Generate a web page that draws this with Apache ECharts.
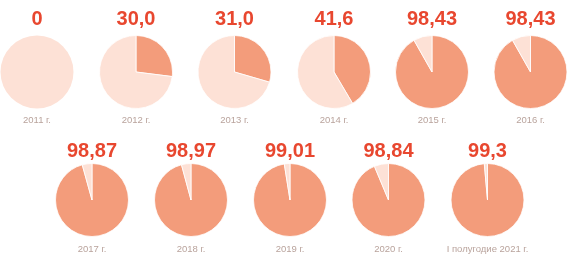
<!DOCTYPE html>
<html><head><meta charset="utf-8">
<script src="https://cdn.jsdelivr.net/npm/echarts@6/dist/echarts.min.js"></script>
<style>html,body{margin:0;padding:0;background:#fff}#c{width:579px;height:260px}</style>
</head><body><div id="c"></div>
<script>
// Period labels
const periods = ['2011 г.','2012 г.','2013 г.','2014 г.','2015 г.','2016 г.','2017 г.','2018 г.','2019 г.','2020 г.','I полугодие 2021 г.'];
// Printed values (as shown above each pie)
const valueLabels = ['0','30,0','31,0','41,6','98,43','98,43','98,87','98,97','99,01','98,84','99,3'];
// Dark slice share as drawn in the picture (%)
const drawnShares = [0, 27, 29.5, 41.5, 91.8, 91.8, 95.7, 95.8, 97.5, 93.7, 98.6];

const centersX = [37,136,234.5,334,432,530.5, 92,191,290,388.5,487.5];
const rowY = [72,200];
const valueY = [19,151];
const yearY = [120.5,249.5];
const R = 36.5;

const DARK = '#f39c7b', LIGHT = '#fde1d6';
const series = [], graphics = [];
periods.forEach((p,i)=>{
  const row = i<6?0:1;
  const d = drawnShares[i];
  series.push({
    type:'pie', radius:[0,R], center:[centersX[i], rowY[row]],
    startAngle:90, clockwise:true, silent:true, animation:false,
    label:{show:false}, labelLine:{show:false},
    itemStyle:{borderColor:'#fff', borderWidth:d>0?0.8:0},
    data: d>0 ? [{value:d,itemStyle:{color:DARK}},{value:100-d,itemStyle:{color:LIGHT}}]
              : [{value:100,itemStyle:{color:LIGHT}}]
  });
  graphics.push({type:'text', x:centersX[i], y:valueY[row], style:{text:valueLabels[i], fill:'#e8472f',
    font:'bold 20px "Liberation Sans", Arial, sans-serif', textAlign:'center', textVerticalAlign:'middle'}});
  graphics.push({type:'text', x:centersX[i], y:yearY[row], style:{text:p, fill:'#b9a39c',
    font:'9.5px "Liberation Sans", Arial, sans-serif', textAlign:'center', textVerticalAlign:'middle'}});
});
const chart = echarts.init(document.getElementById('c'));
chart.setOption({animation:false, series:series, graphic:graphics});
</script></body></html>
